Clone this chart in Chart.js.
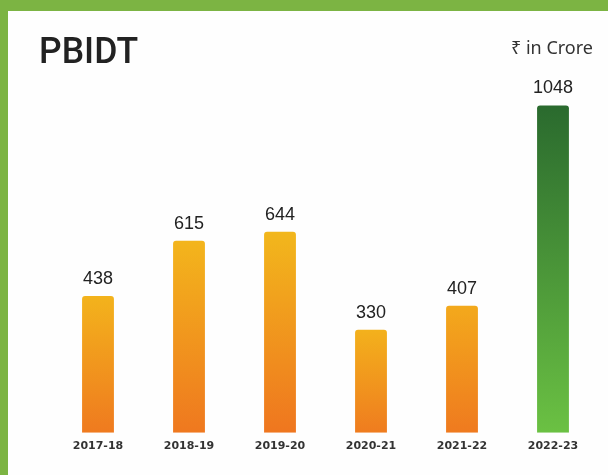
<!DOCTYPE html>
<html>
<head>
<meta charset="utf-8">
<script src="https://cdn.jsdelivr.net/npm/chart.js@4.4.0/dist/chart.umd.min.js"></script>
<style>
body{margin:0;background:#7cb443;width:608px;height:475px;overflow:hidden;font-family:"Roboto",sans-serif;}
#panel{position:absolute;left:8px;top:11px;width:600px;height:464px;background:#fefefe;}
#title{position:absolute;left:31px;top:18px;font:500 37px "Roboto",sans-serif;color:#222;transform:scaleX(0.96);transform-origin:left top;}
#unit{position:absolute;right:15px;top:24px;font:18px "Noto Sans",sans-serif;color:#333;}
canvas{position:absolute;left:0;top:0;}
</style>
</head>
<body>
<div id="panel">
<canvas id="pbidt" width="600" height="464"></canvas>
<div id="title">PBIDT</div>
<div id="unit">₹ in Crore</div>
</div>
<script>
var years = ["2017-18", "2018-19", "2019-20", "2020-21", "2021-22", "2022-23"];
var pbidt = [438, 615, 644, 330, 407, 1048];
var topColors = ["#f3b31c", "#f3b51c", "#f2b71c", "#f3b11c", "#f3a91c", "#2a6a2e"];
var bottomColors = ["#ef7a1f", "#ef781f", "#ef761f", "#ef7c1f", "#ef7a1f", "#6bc143"];

function barFill(context){
	var chart = context.chart;
	var i = context.dataIndex;
	if (!chart.chartArea || !chart.scales.y) return bottomColors[i];
	var y = chart.scales.y;
	var g = chart.ctx.createLinearGradient(0, y.getPixelForValue(pbidt[i]), 0, y.getPixelForValue(0));
	g.addColorStop(0, topColors[i]);
	g.addColorStop(1, bottomColors[i]);
	return g;
}

var valueLabels = {
	id: 'valueLabels',
	afterDatasetsDraw: function(chart){
		var ctx = chart.ctx;
		var meta = chart.getDatasetMeta(0);
		ctx.save();
		ctx.font = '18px "Liberation Sans", sans-serif';
		ctx.fillStyle = '#222';
		ctx.textAlign = 'center';
		ctx.textBaseline = 'bottom';
		meta.data.forEach(function(bar, i){
			ctx.fillText(String(pbidt[i]), bar.x, bar.y - 8);
		});
		ctx.restore();
	}
};

var ctx = document.getElementById("pbidt");
var myChart = new Chart(ctx, {
	type: 'bar',
	data: {
		labels: years,
		datasets: [{
			label: 'PBIDT',
			data: pbidt,
			backgroundColor: barFill,
			borderRadius: 3,
			borderSkipped: 'bottom',
			barPercentage: 1,
			categoryPercentage: 0.35
		}]
	},
	options: {
		responsive: false,
		animation: false,
		layout: {padding: {left: 44.5, right: 9.5, top: 47, bottom: 15}},
		plugins: {legend: {display: false}, tooltip: {enabled: false}},
		scales: {
			x: {
				grid: {display: false, drawTicks: false},
				border: {display: false},
				ticks: {color: '#333', padding: 7, font: {family: 'DejaVu Sans', size: 11, weight: 'bold'}}
			},
			y: {display: false, min: 0, max: 1200}
		}
	},
	plugins: [valueLabels]
});
</script>
</body>
</html>
